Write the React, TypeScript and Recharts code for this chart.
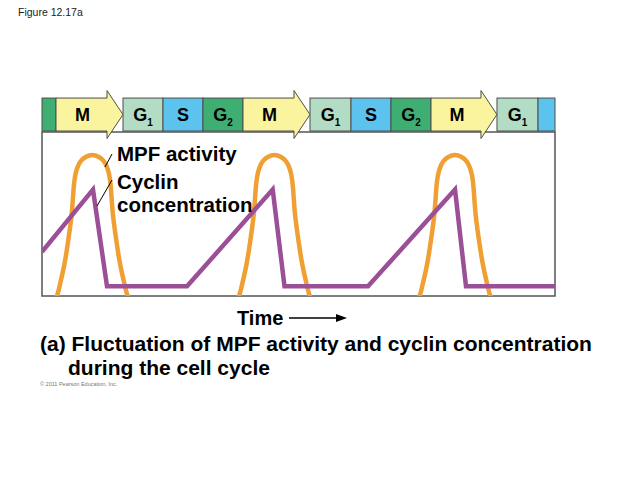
import React from 'react';
import { ComposedChart, Line, XAxis, YAxis, ReferenceArea } from 'recharts';

// ---- Data (time in arbitrary units 0..100, level in arbitrary units 0..100) ----
const phaseKinds = ['G2', 'M', 'G1', 'S', 'G2', 'M', 'G1', 'S', 'G2', 'M', 'G1', 'S'];
const phaseLabels = ['', 'M', 'G1', 'S', 'G2', 'M', 'G1', 'S', 'G2', 'M', 'G1', ''];
const phaseStarts = [0, 2.73, 15.79, 23.59, 31.38, 39.18, 52.24, 60.23, 68.03, 75.83, 88.69, 96.69];
const phaseEnds = [2.73, 15.79, 23.59, 31.38, 39.18, 52.24, 60.23, 68.03, 75.83, 88.69, 96.69, 100];

const cyclinTime = [0, 9.94, 12.67, 28.27, 44.97, 47.27, 63.55, 80.51, 82.65, 100];
const cyclinLevel = [27.0, 64.9, 5.9, 5.9, 64.9, 5.9, 5.9, 64.9, 5.9, 5.9];

const mpfTime1 = [1.6, 2.8, 3.25, 4.34, 5.12, 5.76, 6.14, 6.31, 6.58, 7.11, 7.75, 8.51, 9.8, 11.09, 11.85, 12.49, 13.02, 13.29, 13.46, 13.84, 14.48, 15.26, 16.35, 16.8, 18.0];
const mpfLevel1 = [-8.5, -0.6, 3.7, 18.9, 34.1, 49.4, 64.6, 70.1, 75.0, 79.9, 82.9, 84.8, 86.0, 84.8, 82.9, 79.9, 75.0, 70.1, 64.6, 49.4, 34.1, 18.9, 3.7, -0.6, -8.5];
const mpfTime2 = [37.1, 38.3, 38.75, 39.84, 40.62, 41.26, 41.64, 41.81, 42.08, 42.61, 43.25, 44.01, 45.3, 46.59, 47.35, 47.99, 48.52, 48.79, 48.96, 49.34, 49.98, 50.76, 51.85, 52.3, 53.5];
const mpfLevel2 = [-8.5, -0.6, 3.7, 18.9, 34.1, 49.4, 64.6, 70.1, 75.0, 79.9, 82.9, 84.8, 86.0, 84.8, 82.9, 79.9, 75.0, 70.1, 64.6, 49.4, 34.1, 18.9, 3.7, -0.6, -8.5];
const mpfTime3 = [72.3, 73.5, 73.95, 75.04, 75.82, 76.46, 76.84, 77.01, 77.28, 77.81, 78.45, 79.21, 80.5, 81.79, 82.55, 83.19, 83.72, 83.99, 84.16, 84.54, 85.18, 85.96, 87.05, 87.5, 88.7];
const mpfLevel3 = [-8.5, -0.6, 3.7, 18.9, 34.1, 49.4, 64.6, 70.1, 75.0, 79.9, 82.9, 84.8, 86.0, 84.8, 82.9, 79.9, 75.0, 70.1, 64.6, 49.4, 34.1, 18.9, 3.7, -0.6, -8.5];

// ---- Styling constants ----
const FONT = '"Liberation Sans", Arial, Helvetica, sans-serif';
const PHASE_COLORS: Record<string, string> = {
  G1: '#b3dcc4',
  S: '#5cc3ee',
  G2: '#3fae72',
  M: '#fbf49e',
};
const BORDER = '#4d4d4d';
const ORANGE = '#f0a033';
const PURPLE = '#9a4f97';
const BAND_Y1 = 100.6;
const BAND_Y2 = 120.7;

const zip = (xs: number[], ys: number[]) => xs.map((t, i) => ({ t, v: ys[i] }));
const cyclinData = zip(cyclinTime, cyclinLevel);
const mpfData1 = zip(mpfTime1, mpfLevel1);
const mpfData2 = zip(mpfTime2, mpfLevel2);
const mpfData3 = zip(mpfTime3, mpfLevel3);

function PhaseShape(props: any) {
  const { x, y, width, height, kind, label } = props;
  const fill = PHASE_COLORS[kind];
  const head = 16;
  const over = 7.5;
  let shape;
  let cx = x + width / 2;
  if (kind === 'M') {
    const bx = x + width - head;
    const d = `M${x},${y} L${bx},${y} L${bx},${y - over} L${x + width},${y + height / 2} L${bx},${y + height + over} L${bx},${y + height} L${x},${y + height} Z`;
    shape = <path d={d} fill={fill} stroke={BORDER} strokeWidth={1} />;
    cx = x + (width - head) / 2 + 1;
  } else {
    shape = <rect x={x} y={y} width={width} height={height} fill={fill} stroke={BORDER} strokeWidth={1} />;
  }
  const base = label ? label.charAt(0) : '';
  const sub = label && label.length > 1 ? label.slice(1) : '';
  return (
    <g>
      {shape}
      {label ? (
        <text
          x={cx}
          y={y + height / 2 + 6.5}
          textAnchor="middle"
          fontFamily={FONT}
          fontWeight="bold"
          fontSize={18}
          fill="#000"
        >
          <tspan>{base}</tspan>
          {sub ? (
            <tspan fontSize={10} dy={5}>
              {sub}
            </tspan>
          ) : null}
        </text>
      ) : null}
    </g>
  );
}

export default function App() {
  return (
    <div style={{ position: 'absolute', left: 0, top: 0, width: 638, height: 479, background: '#fff' }}>
      <ComposedChart
        width={638}
        height={479}
        margin={{ top: 91, right: 83, bottom: 183, left: 42 }}
      >
        <XAxis dataKey="t" type="number" domain={[0, 100]} allowDataOverflow hide />
        <YAxis type="number" domain={[0, 125]} allowDataOverflow hide />
        <ReferenceArea x1={0} x2={100} y1={0} y2={100} fill="none" stroke="#555" strokeWidth={1.5} />
        <Line
          data={mpfData1}
          dataKey="v"
          type="natural"
          stroke={ORANGE}
          strokeWidth={4.5}
          dot={false}
          isAnimationActive={false}
        />
        <Line
          data={mpfData2}
          dataKey="v"
          type="natural"
          stroke={ORANGE}
          strokeWidth={4.5}
          dot={false}
          isAnimationActive={false}
        />
        <Line
          data={mpfData3}
          dataKey="v"
          type="natural"
          stroke={ORANGE}
          strokeWidth={4.5}
          dot={false}
          isAnimationActive={false}
        />
        <Line
          data={cyclinData}
          dataKey="v"
          type="linear"
          stroke={PURPLE}
          strokeWidth={4.5}
          strokeLinejoin="miter"
          dot={false}
          isAnimationActive={false}
        />
        {phaseKinds.map((kind, i) => (
          <ReferenceArea
            key={i}
            x1={phaseStarts[i]}
            x2={phaseEnds[i]}
            y1={BAND_Y1}
            y2={BAND_Y2}
            ifOverflow="visible"
            shape={(p: any) => <PhaseShape {...p} kind={kind} label={phaseLabels[i]} />}
          />
        ))}
      </ComposedChart>
      <svg
        width={638}
        height={479}
        style={{ position: 'absolute', left: 0, top: 0, pointerEvents: 'none' }}
      >
        <text x={18} y={15.5} fontFamily={FONT} fontSize={10.5} fill="#222">
          Figure 12.17a
        </text>
        <line x1={112} y1={154} x2={105} y2={167} stroke="#000" strokeWidth={1} />
        <line x1={112} y1={180} x2={97} y2={206} stroke="#000" strokeWidth={1} />
        <text x={117} y={161} fontFamily={FONT} fontWeight="bold" fontSize={20.5} fill="#000">
          MPF activity
        </text>
        <text x={117} y={188.5} fontFamily={FONT} fontWeight="bold" fontSize={20.5} fill="#000">
          Cyclin
        </text>
        <text x={117} y={211.5} fontFamily={FONT} fontWeight="bold" fontSize={20.5} fill="#000">
          concentration
        </text>
        <text x={237} y={325} fontFamily={FONT} fontWeight="bold" fontSize={20} fill="#000">
          Time
        </text>
        <line x1={289} y1={318} x2={338} y2={318} stroke="#000" strokeWidth={1.5} />
        <polygon points="336,314 347,318 336,322" fill="#000" />
        <text x={40} y={351} fontFamily={FONT} fontWeight="bold" fontSize={21} fill="#000">
          (a) Fluctuation of MPF activity and cyclin concentration
        </text>
        <text x={68} y={375} fontFamily={FONT} fontWeight="bold" fontSize={21} fill="#000">
          during the cell cycle
        </text>
        <text x={40} y={386} fontFamily={FONT} fontSize={5.5} fill="#777">
          © 2011 Pearson Education, Inc.
        </text>
      </svg>
    </div>
  );
}
